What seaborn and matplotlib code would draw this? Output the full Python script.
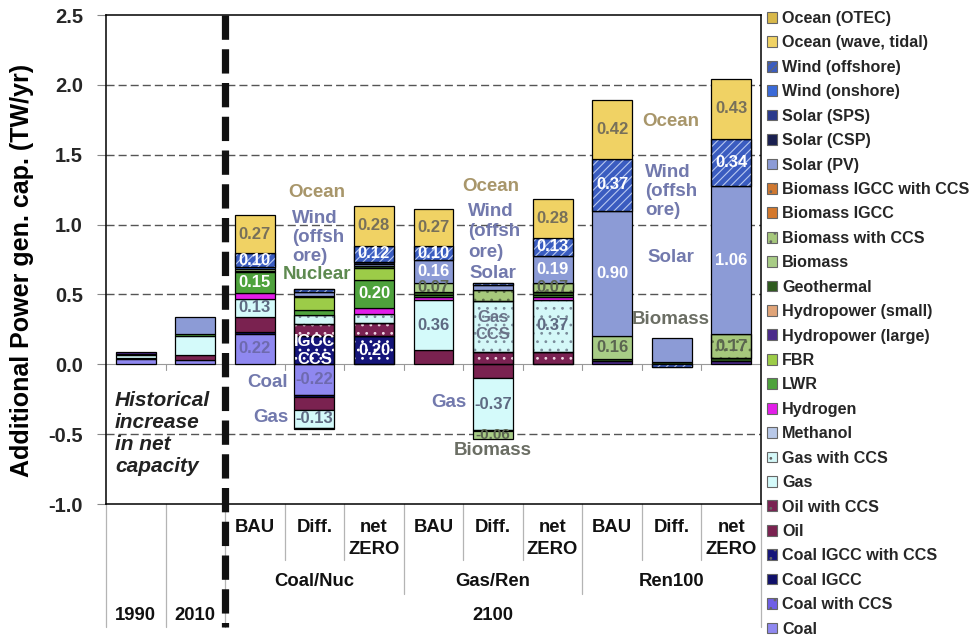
import matplotlib
matplotlib.use("Agg")
import matplotlib.pyplot as plt
import matplotlib.transforms as mtrans
from matplotlib.patches import Patch
import numpy as np
import seaborn as sns

sns.set_theme(style="white")
plt.rcParams["font.family"] = ["Liberation Sans", "DejaVu Sans"]
plt.rcParams["font.weight"] = "bold"
plt.rcParams["hatch.linewidth"] = 0.8
plt.rcParams["lines.scale_dashes"] = False

# ---------------------------------------------------------------- data
columns = ["1990", "2010",
           "CN_BAU", "CN_Diff", "CN_NZ",
           "GR_BAU", "GR_Diff", "GR_NZ",
           "R_BAU", "R_Diff", "R_NZ"]
row1_labels = ["", "", "BAU", "Diff.", "net\nZERO", "BAU", "Diff.", "net\nZERO",
               "BAU", "Diff.", "net\nZERO"]
scenarios = ["Coal/Nuc", "Gas/Ren", "Ren100"]
periods = ["1990", "2010", "2100"]

# additional capacity by technology (TW/yr), one value per column
coal               = [0.035, 0.030, 0.22, -0.22, 0, 0, 0, 0, 0, 0, 0]
coal_ccs           = [0, 0, 0, 0, 0, 0, 0, 0, 0, 0, 0]
coal_igcc          = [0, 0, 0.01, -0.015, 0, 0, 0, 0, 0, 0, 0]
coal_igcc_ccs      = [0, 0, 0, 0.20, 0.20, 0, 0, 0, 0, 0, 0]
oil                = [0.008, 0.035, 0.11, -0.09, 0, 0.10, -0.10, 0, 0, 0, 0]
oil_ccs            = [0, 0, 0, 0.085, 0.095, 0, 0.09, 0.09, 0, 0, 0]
gas                = [0.020, 0.135, 0.13, -0.13, 0, 0.36, -0.37, 0, 0, 0, 0]
gas_ccs            = [0, 0, 0, 0.07, 0.065, 0, 0.365, 0.37, 0, 0, 0]
methanol           = [0, 0, 0, 0, 0, 0, 0, 0, 0, 0, 0]
hydrogen           = [0, 0, 0.04, 0, 0.045, 0.02, 0, 0.02, 0, 0, 0]
lwr                = [0.012, 0.020, 0.15, 0.035, 0.20, 0.015, 0, 0.015, 0, 0, 0]
fbr                = [0, 0, 0, 0.09, 0.085, 0, 0, 0, 0, 0, 0]
hydro_large        = [0.015, 0, 0, 0, 0, 0, 0, 0, 0.02, 0.005, 0.025]
hydro_small        = [0, 0, 0, 0, 0, 0, 0, 0, 0, 0, 0]
geothermal         = [0, 0, 0.01, 0.01, 0.01, 0.02, -0.005, 0.02, 0.02, 0.01, 0.02]
biomass            = [0, 0, 0.015, -0.01, 0, 0.07, -0.06, 0, 0.16, 0, 0]
biomass_ccs        = [0, 0, 0, 0, 0, 0, 0.075, 0.07, 0, 0, 0.17]
biomass_igcc       = [0, 0, 0, 0, 0, 0, 0, 0, 0, 0, 0]
biomass_igcc_ccs   = [0, 0, 0, 0, 0, 0, 0, 0, 0, 0, 0]
solar_pv           = [0, 0.115, 0, 0.025, 0.02, 0.16, 0.035, 0.19, 0.90, 0.175, 1.06]
solar_csp          = [0, 0, 0, 0, 0.01, 0, 0, 0, 0, 0, 0]
solar_sps          = [0, 0, 0, 0, 0, 0, 0, 0, 0, 0, 0]
wind_onshore       = [0, 0, 0.01, 0, 0, 0, 0, 0, 0, 0, 0]
wind_offshore      = [0, 0, 0.10, 0.025, 0.12, 0.10, 0.02, 0.13, 0.37, -0.02, 0.34]
ocean_wave         = [0, 0, 0.27, 0, 0.28, 0.27, 0, 0.28, 0.42, 0, 0.43]
ocean_otec         = [0, 0, 0, 0, 0, 0, 0, 0, 0, 0, 0]

# stacking order, bottom to top: (label, values, colour, hatch, hatch colour)
techs = [
    ("Coal",                 coal,             "#8f88f0", None,   None),
    ("Coal with CCS",        coal_ccs,         "#6f5fe6", "..",   "white"),
    ("Coal IGCC",            coal_igcc,        "#10106a", None,   None),
    ("Coal IGCC with CCS",   coal_igcc_ccs,    "#15157a", "..",   "white"),
    ("Oil",                  oil,              "#7a2250", None,   None),
    ("Oil with CCS",         oil_ccs,          "#7a2252", "..",   "#f0d8e4"),
    ("Gas",                  gas,              "#d4fafa", None,   None),
    ("Gas with CCS",         gas_ccs,          "#d4f8f8", "..",   "#7a8c9a"),
    ("Methanol",             methanol,         "#b8c8e8", None,   None),
    ("Hydrogen",             hydrogen,         "#e21ee8", None,   None),
    ("LWR",                  lwr,              "#4ea23c", None,   None),
    ("FBR",                  fbr,              "#9ccc48", None,   None),
    ("Hydropower (large)",   hydro_large,      "#4b2a8a", None,   None),
    ("Hydropower (small)",   hydro_small,      "#e0a478", None,   None),
    ("Geothermal",           geothermal,       "#2e5a1e", None,   None),
    ("Biomass",              biomass,          "#a8cc86", None,   None),
    ("Biomass with CCS",     biomass_ccs,      "#a6c87c", "..",   "#5c6e46"),
    ("Biomass IGCC",         biomass_igcc,     "#d4782c", None,   None),
    ("Biomass IGCC with CCS", biomass_igcc_ccs, "#d07830", "..",  "white"),
    ("Solar (PV)",           solar_pv,         "#8c9bd6", None,   None),
    ("Solar (CSP)",          solar_csp,        "#1a2050", None,   None),
    ("Solar (SPS)",          solar_sps,        "#2a3a8c", None,   None),
    ("Wind (onshore)",       wind_onshore,     "#3a6ad8", None,   None),
    ("Wind (offshore)",      wind_offshore,    "#3a5cc0", "////", "#b8c8f0"),
    ("Ocean (wave, tidal)",  ocean_wave,       "#f0d264", None,   None),
    ("Ocean (OTEC)",         ocean_otec,       "#d8b84a", None,   None),
]

# ---------------------------------------------------------------- figure
fig = plt.figure(figsize=(9.71, 6.40), dpi=100)
ax = fig.add_axes([106 / 971, 1 - 504 / 640, 655 / 971, 489 / 640])

n = len(columns)
pos_base = np.zeros(n)
neg_base = np.zeros(n)
segments = {}
bar_w = 0.67

for name, vals, col, hatch, hcol in techs:
    vals = np.asarray(vals, dtype=float)
    for positive in (True, False):
        mask = vals > 0 if positive else vals < 0
        if not mask.any():
            continue
        base = pos_base if positive else neg_base
        idx = np.where(mask)[0]
        xs = [columns[i] for i in idx]
        hs = vals[idx]
        bs = base[idx].copy()
        sns.barplot(x=xs, y=hs, order=columns, bottom=bs, color=col,
                    saturation=1, edgecolor="black", linewidth=0.9,
                    width=bar_w, errorbar=None, ax=ax, zorder=3)
        if hatch:
            # patterned overlay, then the outline again on top of it
            sns.barplot(x=xs, y=hs, order=columns, bottom=bs, fill=False,
                        color=hcol, edgecolor=hcol, hatch=hatch, linewidth=0,
                        width=bar_w, errorbar=None, ax=ax, zorder=3)
            sns.barplot(x=xs, y=hs, order=columns, bottom=bs, fill=False,
                        color="black", edgecolor="black", linewidth=0.9,
                        width=bar_w, errorbar=None, ax=ax, zorder=3)
        for i in idx:
            segments[(name, i)] = (base[i], vals[i])
        base[idx] += hs

# ---------------------------------------------------------------- axes styling
ax.set_xlim(-0.5, n - 0.5)
ax.set_ylim(-1.0, 2.5)
yt = np.arange(-1.0, 2.51, 0.5)
ax.set_yticks(yt)
ax.set_yticklabels([f"{v:.1f}" for v in yt], fontsize=14.5, fontweight="bold")
ax.tick_params(axis="y", direction="out", length=6.5, width=0.8,
               color="#888888", pad=10, left=True)
ax.set_xticks([])
ax.set_xlabel("")
ax.set_ylabel("Additional Power gen. cap. (TW/yr)", fontsize=18,
              fontweight="bold", color="black")
ax.yaxis.set_label_coords(-0.110, 0.478)
for s in ax.spines.values():
    s.set_color("black")
    s.set_linewidth(1.1)

for yv in [-0.5, 0.5, 1.0, 1.5, 2.0]:
    ax.axhline(yv, color="#555555", lw=1.0, dashes=(5.8, 2.9), zorder=1)
ax.axhline(0, color="#999999", lw=0.8, zorder=1)
for xb in np.arange(0.5, n - 0.5, 1.0):
    ax.plot([xb, xb], [0, -0.04], color="#999999", lw=0.8, zorder=1)

# ---------------------------------------------------------------- value labels
def seg_label(name, i, text, color, size=12):
    b, h = segments[(name, i)]
    ax.text(i, b + h / 2, text, ha="center", va="center", fontsize=size,
            fontweight="bold", color=color, zorder=6)

ocean_c = "#77705a"
coal_c = "#6e6aae"
gas_c = "#5e6a82"
bio_c = "#5a6450"

value_labels = [
    ("Coal", 2, coal_c), ("Gas", 2, gas_c), ("LWR", 2, "white"),
    ("Wind (offshore)", 2, "white"), ("Ocean (wave, tidal)", 2, ocean_c),
    ("Coal", 3, coal_c), ("Gas", 3, gas_c),
    ("Coal IGCC with CCS", 4, "white"), ("LWR", 4, "white"),
    ("Wind (offshore)", 4, "white"), ("Ocean (wave, tidal)", 4, ocean_c),
    ("Gas", 5, gas_c), ("Biomass", 5, bio_c), ("Solar (PV)", 5, "white"),
    ("Wind (offshore)", 5, "white"), ("Ocean (wave, tidal)", 5, ocean_c),
    ("Gas", 6, gas_c),
    ("Gas with CCS", 7, gas_c), ("Biomass with CCS", 7, bio_c),
    ("Solar (PV)", 7, "white"), ("Wind (offshore)", 7, "white"),
    ("Ocean (wave, tidal)", 7, ocean_c),
    ("Biomass", 8, bio_c), ("Solar (PV)", 8, "white"),
    ("Wind (offshore)", 8, "white"), ("Ocean (wave, tidal)", 8, ocean_c),
    ("Biomass with CCS", 10, bio_c), ("Solar (PV)", 10, "white"),
    ("Wind (offshore)", 10, "white"), ("Ocean (wave, tidal)", 10, ocean_c),
]
for name, i, c in value_labels:
    seg_label(name, i, f"{segments[(name, i)][1]:.2f}", c)
seg_label("Biomass", 6, f"{segments[('Biomass', 6)][1]:.2f}", bio_c, size=11)
seg_label("Coal IGCC with CCS", 3, "IGCC\nCCS", "white")
seg_label("Gas with CCS", 6, "Gas\nCCS", "#6a7388")

# ---------------------------------------------------------------- annotations
tan = "#a8966a"
slate = "#7279ad"
green = "#5e8a50"
grey = "#6b6e64"
ann_kw = dict(fontsize=13.5, fontweight="bold", zorder=6)
ax.text(3.04, 1.23, "Ocean", color=tan, ha="center", va="center", **ann_kw)
ax.text(2.63, 0.907, "Wind\n(offsh\nore)", color=slate, ha="left",
        va="center", linespacing=1.17, **ann_kw)
ax.text(3.04, 0.643, "Nuclear", color=green, ha="center", va="center", **ann_kw)
ax.text(2.56, -0.128, "Coal", color=slate, ha="right", va="center", **ann_kw)
ax.text(2.56, -0.378, "Gas", color=slate, ha="right", va="center", **ann_kw)

ax.text(5.96, 1.27, "Ocean", color=tan, ha="center", va="center", **ann_kw)
ax.text(5.585, 0.948, "Wind\n(offsh\nore)", color=slate, ha="left",
        va="center", linespacing=1.26, **ann_kw)
ax.text(5.6, 0.65, "Solar", color=slate, ha="left", va="center", **ann_kw)
ax.text(5.55, -0.272, "Gas", color=slate, ha="right", va="center", **ann_kw)
ax.text(6.0, -0.615, "Biomass", color=grey, ha="center", va="center", **ann_kw)

ax.text(8.99, 1.736, "Ocean", color=tan, ha="center", va="center", **ann_kw)
ax.text(8.56, 1.236, "Wind\n(offsh\nore)", color=slate, ha="left",
        va="center", linespacing=1.18, **ann_kw)
ax.text(8.98, 0.764, "Solar", color=slate, ha="center", va="center", **ann_kw)
ax.text(8.98, 0.32, "Biomass", color=grey, ha="center", va="center", **ann_kw)

ax.text(-0.35, -0.496, "Historical\nincrease\nin net\ncapacity", ha="left",
        va="center", fontsize=15, fontweight="bold", fontstyle="italic",
        color="#222222", linespacing=1.2, zorder=6)

# ---------------------------------------------------------------- category table
blend = mtrans.blended_transform_factory(ax.transData, ax.transAxes)
def ypx(p):
    return (504 - p) / 489

line_kw = dict(color="#b4b4b4", lw=0.9, transform=blend, clip_on=False, zorder=2)
for xb in [2.5, 3.5, 5.5, 6.5, 8.5, 9.5]:
    ax.plot([xb, xb], [0, ypx(560)], **line_kw)
for xb in [4.5, 7.5]:
    ax.plot([xb, xb], [0, ypx(594)], **line_kw)
for xb in [-0.5, 0.5, 1.5, 10.5]:
    ax.plot([xb, xb], [0, ypx(627)], **line_kw)

txt_kw = dict(fontsize=13.3, fontweight="bold", color="#111111", ha="center",
              va="center", transform=blend, clip_on=False)
for i, lab in enumerate(row1_labels):
    if not lab:
        continue
    parts = lab.split("\n")
    if len(parts) == 1:
        ax.text(i, ypx(527), lab, **txt_kw)
    else:
        ax.text(i, ypx(527), parts[0], **txt_kw)
        ax.text(i, ypx(549), parts[1], **txt_kw)
for j, lab in enumerate(scenarios):
    ax.text(3 + 3 * j, ypx(582), lab, **txt_kw)
for x, lab in zip([0, 1, 6], periods):
    ax.text(x, ypx(615), lab, **txt_kw)

# thick dashed divider between history and 2100 scenarios
ax.plot([1.5, 1.5], [1.0, ypx(627)], color="#111111", lw=5.2,
        dashes=(17.5, 6.8), solid_capstyle="butt", dash_capstyle="butt",
        transform=blend, clip_on=False, zorder=10)

# ---------------------------------------------------------------- legend
handles = []
labels = []
for name, vals, col, hatch, hcol in reversed(techs):
    handles.append(Patch(facecolor=col, edgecolor="#666666", linewidth=0.8,
                         hatch=hatch))
    labels.append(name)
fig.legend(handles, labels, loc="upper left",
           bbox_to_anchor=(767 / 971, 1 - 11 / 640), frameon=False,
           handlelength=0.65, handleheight=0.65,
           handletextpad=0.3, labelspacing=0.585, borderpad=0,
           borderaxespad=0, prop={"weight": "bold", "size": 11.6})

fig.savefig("out.png", dpi=100)
